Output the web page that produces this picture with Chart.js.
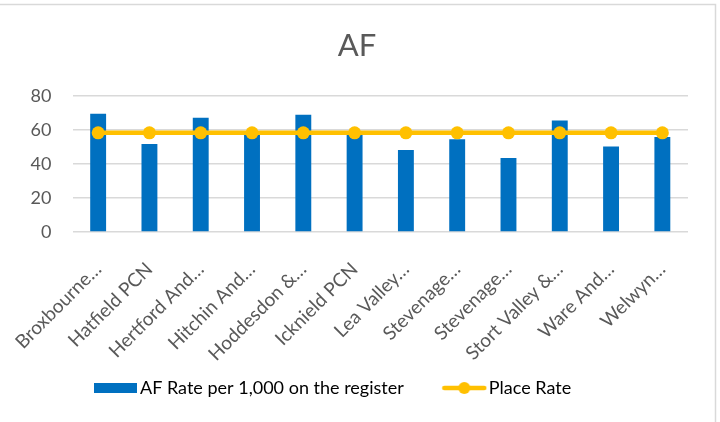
<!DOCTYPE html>
<html>
<head>
<meta charset="utf-8">
<script src="https://cdn.jsdelivr.net/npm/chart.js@4"></script>
<style>
  html, body { margin: 0; padding: 0; background: #fff; }
  #wrap { width: 720px; height: 422px; }
</style>
</head>
<body>
<div id="wrap"><canvas id="afChart" width="720" height="422"></canvas></div>
<script>
const pcnLabels = [
  'Broxbourne…', 'Hatfield PCN', 'Hertford And…', 'Hitchin And…',
  'Hoddesdon &…', 'Icknield PCN', 'Lea Valley…', 'Stevenage…',
  'Stevenage…', 'Stort Valley &…', 'Ware And…', 'Welwyn…'
];
const afRate = [69.4, 51.6, 67.1, 57.5, 68.8, 57.0, 48.2, 54.4, 43.5, 65.5, 50.2, 55.7];
const placeRate = [58.2, 58.2, 58.2, 58.2, 58.2, 58.2, 58.2, 58.2, 58.2, 58.2, 58.2, 58.2];
const yTicks = [0, 20, 40, 60, 80];

const blue = '#0070C0';
const gold = '#FFC000';
const grey = '#595959';

Chart.defaults.font.family = 'Lato';
Chart.defaults.color = grey;

// little images for the legend keys
const barKey = document.createElement('canvas');
barKey.width = 43;
barKey.height = 10;
let kctx = barKey.getContext('2d');
kctx.fillStyle = blue;
kctx.fillRect(0, 0, 43, 10);

const lineKey = document.createElement('canvas');
lineKey.width = 46;
lineKey.height = 14;
kctx = lineKey.getContext('2d');
kctx.strokeStyle = gold;
kctx.lineWidth = 4.5;
kctx.lineCap = 'round';
kctx.beginPath();
kctx.moveTo(3, 7);
kctx.lineTo(43, 7);
kctx.stroke();
kctx.fillStyle = gold;
kctx.beginPath();
kctx.arc(23, 7, 6, 0, Math.PI * 2);
kctx.fill();

const frame = {
  id: 'frame',
  beforeDraw(chart) {
    const ctx = chart.ctx;
    ctx.save();
    ctx.fillStyle = '#fff';
    ctx.fillRect(0, 0, chart.width, chart.height);
    ctx.strokeStyle = '#D9D9D9';
    ctx.lineWidth = 1.5;
    ctx.beginPath();
    ctx.moveTo(0, 4.5);
    ctx.lineTo(715.5, 4.5);
    ctx.lineTo(715.5, chart.height);
    ctx.stroke();
    ctx.restore();
  },
  afterLayout(chart) {
    // centre the title on the whole frame, not the padded area
    chart.titleBlock.left = 0;
    chart.titleBlock.right = 714;
    // legend takes no room in the layout; place it by hand
    const lg = chart.legend;
    const pad = lg.options.labels.padding;
    lg.left = 100 - pad;
    lg.right = 720;
    lg.top = 379 - pad;
    lg.bottom = 422;
    lg.height = lg.bottom - lg.top;
  }
};

const ctx = document.getElementById('afChart').getContext('2d');
new Chart(ctx, {
  type: 'bar',
  data: {
    labels: pcnLabels,
    datasets: [
      {
        label: 'AF Rate per 1,000 on the register',
        data: afRate,
        backgroundColor: blue,
        borderWidth: 0,
        barPercentage: 0.31,
        categoryPercentage: 1,
        order: 1,
      },
      {
        type: 'line',
        label: 'Place Rate',
        data: placeRate,
        borderColor: gold,
        backgroundColor: gold,
        borderWidth: 4.5,
        pointRadius: 6.5,
        pointBackgroundColor: gold,
        pointBorderWidth: 0,
        order: 0,
      },
    ],
  },
  options: {
    responsive: false,
    animation: false,
    layout: { padding: { left: 0, right: 32, top: 0, bottom: 0 } },
    plugins: {
      tooltip: { enabled: false },
      title: {
        display: true,
        text: 'AF',
        color: grey,
        font: { size: 31, weight: 'normal' },
        padding: { top: 27.5, bottom: 31 },
      },
      legend: {
        position: 'bottom',
        align: 'start',
        maxHeight: 1,
        labels: {
          usePointStyle: true,
          pointStyleWidth: 31,
          padding: 45,
          color: grey,
          font: { size: 18 },
          generateLabels: () => [
            { text: 'AF Rate per 1,000 on the register', pointStyle: barKey, datasetIndex: 0, fillStyle: 'transparent', strokeStyle: 'transparent', lineWidth: 0, hidden: false },
            { text: 'Place Rate', pointStyle: lineKey, datasetIndex: 1, fillStyle: 'transparent', strokeStyle: 'transparent', lineWidth: 0, hidden: false },
          ],
        },
      },
    },
    scales: {
      x: {
        grid: { display: false },
        border: { display: false },
        ticks: {
          minRotation: 45,
          maxRotation: 45,
          autoSkip: false,
          padding: 18,
          font: { size: 19 },
        },
        afterFit(scale) {
          scale.height = 422 - 232 - scale.chart.legend.height;
          scale.paddingLeft = 0;
          scale.paddingRight = 0;
        },
      },
      y: {
        min: 0,
        max: 80,
        afterBuildTicks(scale) {
          scale.ticks = yTicks.map((v) => ({ value: v }));
        },
        grid: { color: '#D9D9D9', lineWidth: 1.5, drawTicks: false },
        border: { display: false },
        ticks: { padding: 21, font: { size: 18 } },
        afterFit(scale) {
          scale.width = 72.5;
        },
      },
    },
  },
  plugins: [frame],
});
</script>
</body>
</html>
